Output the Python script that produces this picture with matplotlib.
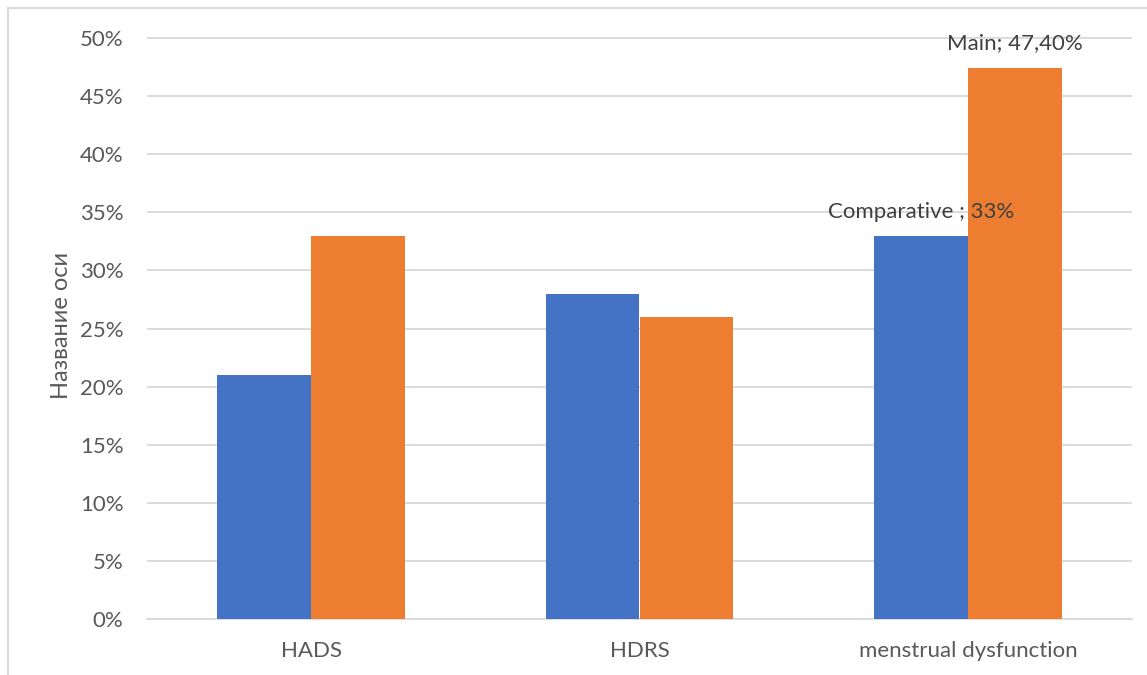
import matplotlib
matplotlib.use("Agg")
import matplotlib.pyplot as plt
from matplotlib.patches import Rectangle
import numpy as np

categories = ["HADS", "HDRS", "menstrual dysfunction"]
comparative = [0.21, 0.28, 0.33]
main = [0.33, 0.26, 0.474]
yticks = [0.0, 0.05, 0.10, 0.15, 0.20, 0.25, 0.30, 0.35, 0.40, 0.45, 0.50]
ytick_labels = ["0%", "5%", "10%", "15%", "20%", "25%", "30%", "35%", "40%", "45%", "50%"]

plt.rcParams['font.family'] = ['Lato', 'DejaVu Sans']

W, H = 1147, 675
fig = plt.figure(figsize=(W / 100, H / 100), dpi=100)

# frame border
fig.patches.append(Rectangle((8 / W, -0.05), 1.2, 1 - 8 / H + 0.05, transform=fig.transFigure,
                             fill=False, edgecolor="#D9D9D9", linewidth=1.5))

ppu = (619 - 38) / 0.5
ytop = 0.505
top_px = 619 - ytop * ppu
left, right = 147, 1132
ax = fig.add_axes([left / W, (H - 619) / H, (right - left) / W, (619 - top_px) / H])

x = np.arange(len(categories))
w = 0.286
ax.bar(x - w / 2, comparative, w, color="#4472C4", label="Comparative", zorder=3)
ax.bar(x + w / 2, main, w, color="#ED7D31", label="Main", zorder=3)

ax.set_xlim(-0.5, 2.5)
ax.set_ylim(0, ytop)
ax.set_yticks(yticks)
ax.set_yticklabels(ytick_labels)
ax.set_xticks(x)
ax.set_xticklabels(categories)
ax.yaxis.grid(True, color="#D9D9D9", linewidth=1.3, zorder=0)
ax.set_axisbelow(True)
for s in ["top", "right", "left"]:
    ax.spines[s].set_visible(False)
ax.spines["bottom"].set_color("#D9D9D9")
ax.spines["bottom"].set_linewidth(1.3)
ax.tick_params(axis="both", length=0, colors="#595959", labelsize=16)
ax.tick_params(axis="y", pad=17)
ax.tick_params(axis="x", pad=16)
ax.set_ylabel("Название оси", fontsize=17, color="#595959", va="center")
ax.yaxis.set_label_coords((62 - left) / (right - left), 0.5)

ax.annotate("Main; 47,40%", (x[2] + w / 2, main[2]), xytext=(0, 25), textcoords="offset pixels",
            ha="center", va="center", fontsize=16, color="#404040", zorder=5)
ax.annotate("Comparative ; 33%", (x[2] - w / 2, comparative[2]), xytext=(0, 24), textcoords="offset pixels",
            ha="center", va="center", fontsize=16, color="#404040", zorder=5)

fig.savefig("out.png", dpi=100)
